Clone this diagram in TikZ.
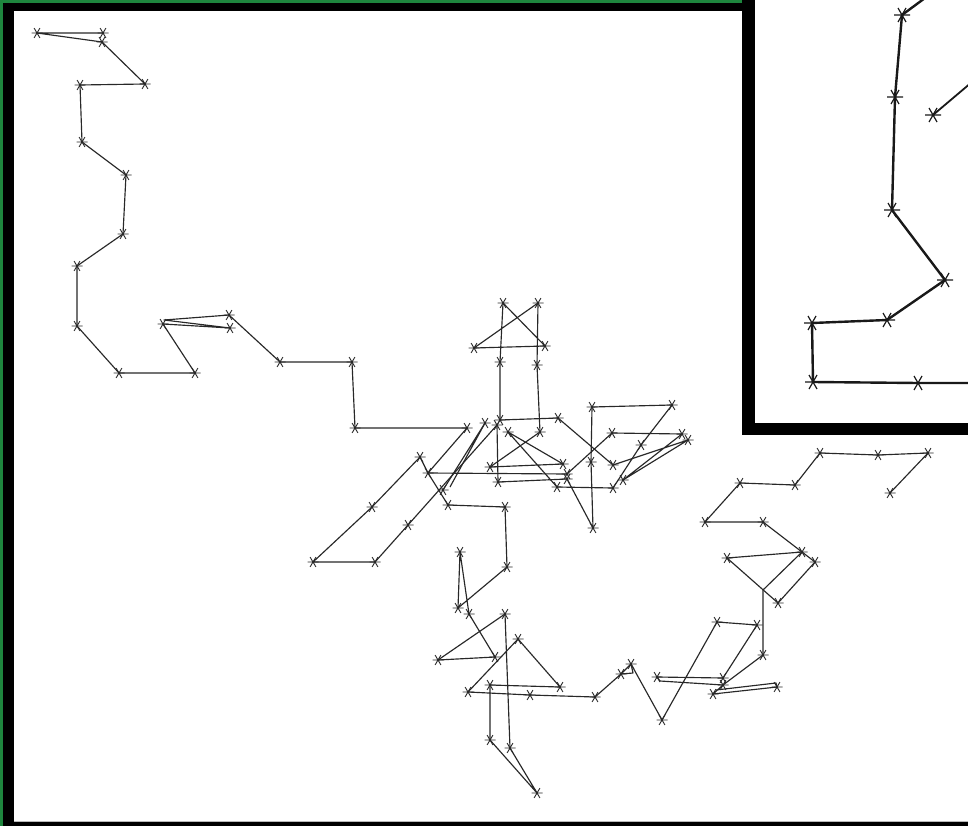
\documentclass[tikz,border=0pt]{standalone}
\definecolor{edgegreen}{RGB}{30,135,62}
\definecolor{trace}{RGB}{40,40,40}
\tikzset{
  trail/.style={draw=trace, line width=1.15pt, line join=round},
  insettrail/.style={draw=black!90, line width=2.4pt, line join=round},
  pics/tick/.style={code={
    \draw[trace, line width=0.9pt] (-5.5,0) -- (5.5,0) (-2.9,-4.9) -- (2.9,4.9) (-2.9,4.9) -- (2.9,-4.9);}},
  pics/bigtick/.style={code={
    \draw[black!90, line width=1.2pt] (-8,0) -- (8,0) (-4,-7) -- (4,7) (-4,7) -- (4,-7);}}
}
\begin{document}
\begin{tikzpicture}[x=1pt,y=-1pt]
\useasboundingbox (0,0) rectangle (968,826);
% frame
\fill[edgegreen] (0,0) rectangle (968,826);
\fill[black] (3,3) rectangle (968,826);
\fill[white] (14,11) rectangle (968,822);
\draw[gray!55, line width=0.8pt] (14,821.4) -- (968,821.4);

% ---------- main trajectory: vertices ----------
\coordinate (a1) at (103,33);  \coordinate (a2) at (37,33);   \coordinate (a3) at (102,42);
\coordinate (a4) at (145,84);  \coordinate (a5) at (80,85);   \coordinate (a6) at (82,142);
\coordinate (a7) at (126,175); \coordinate (a8) at (123,234); \coordinate (a9) at (77,266);
\coordinate (a10) at (77,326); \coordinate (a11) at (119,373);\coordinate (a12) at (195,373);
\coordinate (a13) at (163,324);\coordinate (a14) at (230,328);\coordinate (a15) at (164,320);
\coordinate (a16) at (229,315);\coordinate (a17) at (280,362);\coordinate (a18) at (352,362);
\coordinate (a19) at (355,428);\coordinate (a20) at (467,428);

\coordinate (b1) at (428,473); \coordinate (b2) at (567,474); \coordinate (b3) at (485,423);
\coordinate (b4) at (443,490); \coordinate (b5) at (450,487); \coordinate (b6) at (497,425);
\coordinate (b7) at (408,525); \coordinate (b8) at (375,562); \coordinate (b9) at (313,562);
\coordinate (b10) at (372,507);\coordinate (b11) at (420,457);\coordinate (b12) at (448,505);
\coordinate (b13) at (505,507);\coordinate (b14) at (507,567);

\coordinate (c1) at (460,552); \coordinate (c2) at (458,608); \coordinate (c3) at (469,614);
\coordinate (c4) at (495,657); \coordinate (c5) at (438,660); \coordinate (c6) at (505,614);
\coordinate (c7) at (510,748); \coordinate (c8) at (537,793); \coordinate (c9) at (490,740);
\coordinate (c10) at (490,685);\coordinate (c11) at (560,687);\coordinate (c12) at (518,639);
\coordinate (c13) at (468,692);\coordinate (c14) at (530,695);\coordinate (c15) at (595,697);
\coordinate (c16) at (631,664);\coordinate (c16b) at (633,673);\coordinate (c17) at (621,674);
\coordinate (c18) at (662,720);

\coordinate (d1) at (717,622); \coordinate (d2) at (757,625); \coordinate (d3) at (723,678);
\coordinate (d4) at (657,677); \coordinate (d4b) at (660,681);\coordinate (d5) at (723,685);
\coordinate (d6) at (763,655); \coordinate (d7) at (763,590); \coordinate (d8) at (713,694);
\coordinate (d9) at (777,687); \coordinate (d9b) at (776,683);\coordinate (d8b) at (716,690);

\coordinate (e1) at (727,558); \coordinate (e2) at (802,552); \coordinate (e3) at (778,603);
\coordinate (e4) at (815,562); \coordinate (e5) at (763,522); \coordinate (e6) at (705,522);
\coordinate (e7) at (740,483); \coordinate (e8) at (795,485); \coordinate (e9) at (820,453);
\coordinate (e10) at (878,455);\coordinate (e11) at (928,453);\coordinate (e12) at (890,493);

\coordinate (f1) at (500,420); \coordinate (f2) at (503,303); \coordinate (f3) at (545,346);
\coordinate (f4) at (474,348); \coordinate (f5) at (538,303); \coordinate (f6) at (500,362);
\coordinate (f7) at (537,365); \coordinate (f8) at (540,432);

\coordinate (g1) at (558,418); \coordinate (g2) at (613,465); \coordinate (g3) at (490,467);
\coordinate (g4) at (508,432); \coordinate (g5) at (563,464); \coordinate (g6) at (557,487);
\coordinate (g7) at (498,482); \coordinate (g8) at (567,479); \coordinate (g9) at (593,528);
\coordinate (g11) at (613,488);

\coordinate (h1) at (592,407); \coordinate (h2) at (672,405); \coordinate (h3) at (612,433);
\coordinate (h4) at (682,434); \coordinate (h5) at (688,440); \coordinate (h6) at (623,480);
\coordinate (h7) at (641,445); \coordinate (h8) at (591,462);

% ---------- main trajectory: segments ----------
\draw[trail] (a1) -- (a2) -- (a3) -- (a4) -- (a5) -- (a6) -- (a7) -- (a8) -- (a9) -- (a10)
  -- (a11) -- (a12) -- (a13) -- (a14) -- (a15) -- (a16) -- (a17) -- (a18) -- (a19) -- (a20) -- (b1) -- (b2);
\draw[trail] (b3) -- (b4) (b3) -- (b5);
\draw[trail] (b6) -- (b7) -- (b8) -- (b9) -- (b10) -- (b11) -- (b1) -- (b12) -- (b13) -- (b14)
  -- (c2) -- (c1) -- (c3) -- (c4) -- (c5) -- (c6) -- (c7) -- (c8) -- (c9) -- (c10) -- (c11)
  -- (c12) -- (c13) -- (c14) -- (c15) -- (c17) -- (c16) -- (c16b) -- (c17);
\draw[trail] (c16) -- (c18) -- (d1) -- (d2) -- (d3) -- (d4) -- (d4b) -- (d5) -- (d6) -- (d7) -- (e2);
\draw[trail] (d5) -- (d8) -- (d9) -- (d9b) -- (d8b);
\draw[trail] (e3) -- (e1) -- (e2) -- (e4) -- (e3);
\draw[trail] (e12) -- (e11) -- (e10) -- (e9) -- (e8) -- (e7) -- (e6) -- (e5) -- (e2);
\draw[trail] (f1) -- (f6) -- (f2) -- (f3) -- (f4) -- (f5) -- (f7) -- (f8);
\draw[trail] (f1) -- (g1) -- (g2);
\draw[trail] (f8) -- (g3) -- (g5) -- (g4) -- (g6) -- (g11);
\draw[trail] (b6) -- (g7) -- (g8) -- (g9) -- (h8) -- (h1) -- (h2) -- (h7) -- (g11);
\draw[trail] (b2) -- (h3) -- (h4) -- (h6) -- (h5) -- (g2);

% ---------- main trajectory: sample marks ----------
\foreach \p in {a1,a2,a3,a4,a5,a6,a7,a8,a9,a10,a11,a12,a13,a14,a16,a17,a18,a19,a20,
  b1,b2,b3,b4,b6,b7,b8,b9,b10,b11,b12,b13,b14,
  c1,c2,c3,c4,c5,c6,c7,c8,c9,c10,c11,c12,c13,c14,c15,c16,c17,c18,
  d1,d2,d3,d4,d5,d6,d8,d9,
  e1,e2,e3,e4,e5,e6,e7,e8,e9,e10,e11,e12,
  f1,f2,f3,f4,f5,f6,f7,f8,
  g1,g2,g3,g4,g5,g6,g7,g8,g9,g11,
  h1,h2,h3,h4,h5,h6,h7,h8}
  \pic at (\p) {tick};

% ---------- inset ----------
\fill[black] (742,0) rectangle (968,435);
\fill[white] (755,0) rectangle (968,423);
\begin{scope}
\clip (755,0) rectangle (968,423);
\coordinate (i0) at (925,-2);  \coordinate (i1) at (902,15);  \coordinate (i2) at (895,97);
\coordinate (i3) at (892,210); \coordinate (i4) at (945,280); \coordinate (i5) at (887,320);
\coordinate (i6) at (812,323); \coordinate (i7) at (813,382); \coordinate (i8) at (918,383);
\coordinate (i9) at (972,383); \coordinate (i10) at (933,115);\coordinate (i11) at (972,82);
\draw[insettrail] (i0) -- (i1) -- (i2) -- (i3) -- (i4) -- (i5) -- (i6) -- (i7) -- (i8) -- (i9);
\draw[insettrail, line width=1.8pt] (i10) -- (i11);
\foreach \p in {i1,i2,i3,i4,i5,i6,i7,i8,i10}
  \pic at (\p) {bigtick};
\end{scope}
\end{tikzpicture}
\end{document}
